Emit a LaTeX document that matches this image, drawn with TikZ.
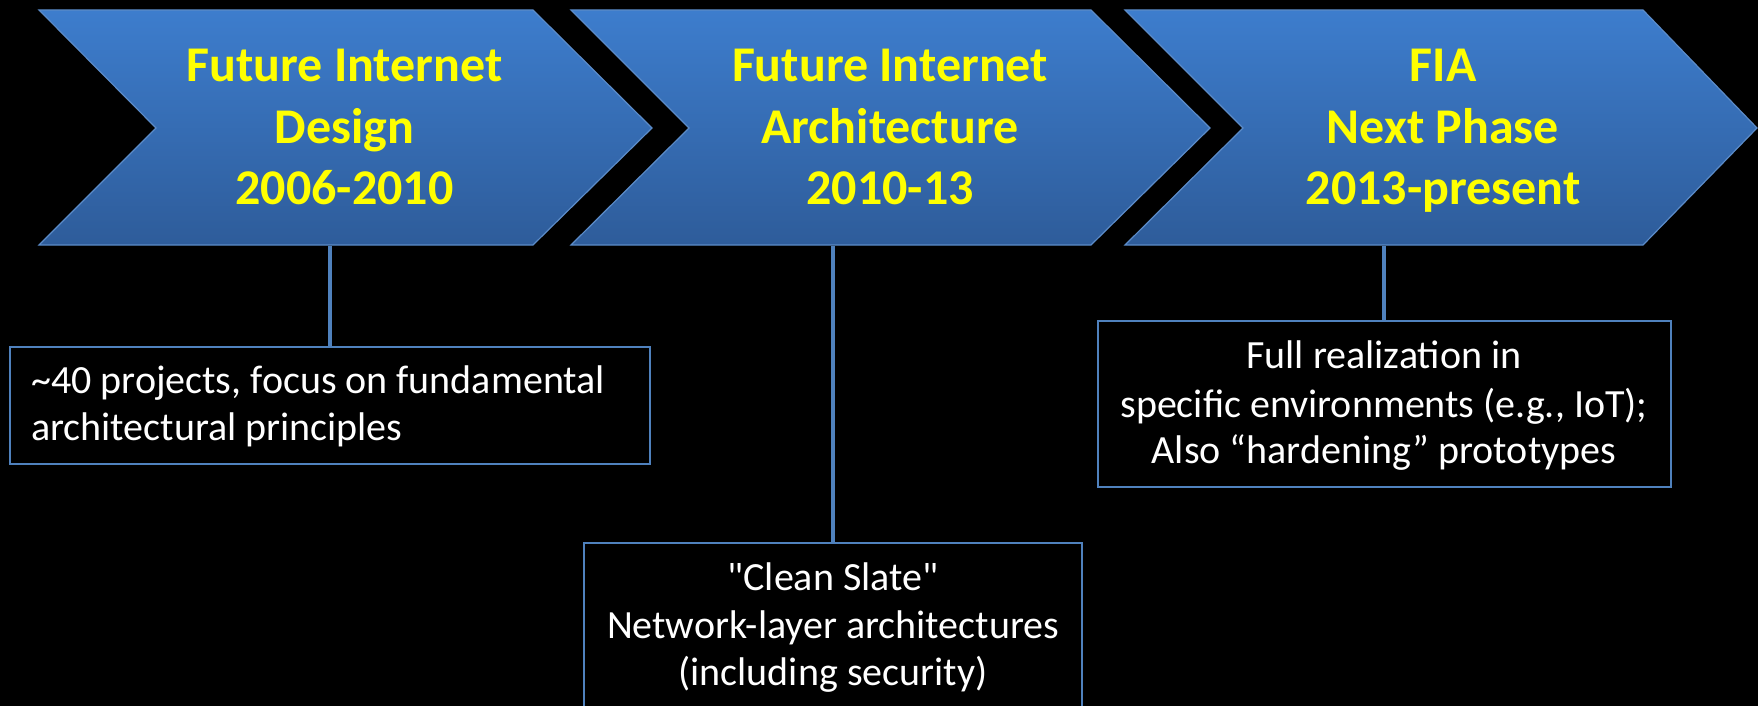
\documentclass[tikz,border=0pt]{standalone}
\usepackage{fontspec}
\setmainfont{Carlito}
\definecolor{chevtop}{HTML}{3D7DCD}
\definecolor{chevbot}{HTML}{2E5C9A}
\definecolor{chevedge}{HTML}{5B8BC8}
\definecolor{linkblue}{HTML}{4F81BD}
\definecolor{titleyellow}{HTML}{FFFF00}
\begin{document}
\begin{tikzpicture}[x=1pt,y=-1pt,
  chevron/.style={top color=chevtop, bottom color=chevbot, draw=chevedge, line width=1.2pt, line join=miter},
  title/.style={anchor=base, text=titleyellow, font=\fontsize{50}{60}\selectfont\bfseries, inner sep=0pt},
  body/.style={anchor=base, text=white, font=\fontsize{40}{47}\selectfont, inner sep=0pt},
  bodyleft/.style={body, anchor=base west},
  infobox/.style={draw=linkblue, line width=2pt, rectangle, inner sep=0pt},
  stem/.style={draw=linkblue, line width=4.5pt}]
  % page and background
  \useasboundingbox (0,0) rectangle (1758,706);
  \fill[black] (0,0) rectangle (1758,706);
  \clip (0,0) rectangle (1758,706);

  % the three phase chevrons
  \path[chevron] (39,10) -- (533,10) -- (652,128) -- (533,245) -- (39,245) -- (156,128) -- cycle;
  \path[chevron] (571,10) -- (1091,10) -- (1210,128) -- (1091,245) -- (571,245) -- (689,128) -- cycle;
  \path[chevron] (1125,10) -- (1643,10) -- (1757,128) -- (1643,245) -- (1125,245) -- (1243,128) -- cycle;

  % phase titles
  \node[title] (t1a) at (344.5,82) {Future Internet};
  \node[title] (t1b) at (344.5,143) {Design};
  \node[title] (t1c) at (344.5,204) {2006-2010};
  \node[title] (t2a) at (890,82) {Future Internet};
  \node[title] (t2b) at (890,143) {Architecture};
  \node[title] (t2c) at (890,204) {2010-13};
  \node[title] (t3a) at (1443,82) {FIA};
  \node[title] (t3b) at (1443,143) {Next Phase};
  \node[title] (t3c) at (1443,204) {2013-present};

  % description boxes
  \node[infobox, minimum width=640pt, minimum height=117pt] (b1) at (330,405.5) {};
  \node[infobox, minimum width=498pt, minimum height=169pt] (b2) at (833,627.5) {};
  \node[infobox, minimum width=573pt, minimum height=166pt] (b3) at (1384,404) {};

  % stems from the chevrons down to the boxes
  \coordinate (f1) at (330,246);
  \coordinate (f2) at (833,246);
  \coordinate (f3) at (1384,246);
  \draw[stem] (f1) -- (b1.north);
  \draw[stem] (f2) -- (b2.north);
  \draw[stem] (f3) -- (b3.north);

  % box texts
  \node[bodyleft] (d1a) at (31,393) {\textasciitilde 40 projects, focus on fundamental};
  \node[bodyleft] (d1b) at (31,440) {architectural principles};
  \node[body] (d2a) at (833,590) {\textquotedbl Clean Slate\textquotedbl};
  \node[body] (d2b) at (833,638) {Network-layer architectures};
  \node[body] (d2c) at (833,685) {(including security)};
  \node[body] (d3a) at (1384,368) {Full realization in};
  \node[body] (d3b) at (1384,417) {specific environments (e.g., IoT);};
  \node[body] (d3c) at (1384,463) {Also “hardening” prototypes};
\end{tikzpicture}
\end{document}
